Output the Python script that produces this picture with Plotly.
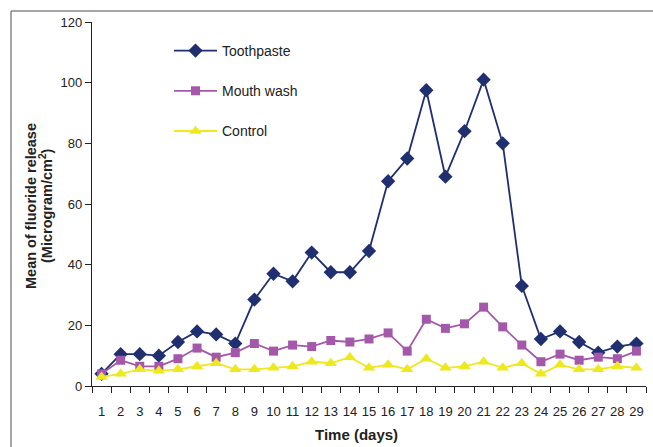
import plotly.graph_objects as go

days = [str(d) for d in range(1, 30)]
toothpaste = [4, 10.5, 10.5, 10, 14.5, 18, 17, 14, 28.5, 37, 34.5, 44, 37.5, 37.5, 44.5,
              67.5, 75, 97.5, 69, 84, 101, 80, 33, 15.5, 18, 14.5, 11, 13, 14]
mouth_wash = [4, 8.5, 6.5, 6.5, 9, 12.5, 9.5, 11, 14, 11.5, 13.5, 13, 15, 14.5, 15.5,
              17.5, 11.5, 22, 19, 20.5, 26, 19.5, 13.5, 8, 10.5, 8.5, 9.5, 9, 11.5]
control = [3, 4, 5.5, 5, 5.5, 6.5, 7.5, 5.5, 5.5, 6, 6.5, 8, 7.5, 9.5, 6,
           7, 5.5, 9, 6, 6.5, 8, 6, 7.5, 4, 7, 5.5, 5.5, 6.5, 6]
y_ticks = [0, 20, 40, 60, 80, 100, 120]

FONT = "Liberation Sans, Arial, sans-serif"

fig = go.Figure()
fig.add_trace(go.Scatter(x=days, y=toothpaste, name="Toothpaste", mode="lines+markers",
                         legendgroup="a",
                         line=dict(color="#1F2F70", width=1.8),
                         marker=dict(symbol="diamond", size=11, color="#1F2F70")))
fig.add_trace(go.Scatter(x=days, y=mouth_wash, name="Mouth wash", mode="lines+markers",
                         legendgroup="b",
                         line=dict(color="#A458AA", width=1.8),
                         marker=dict(symbol="square", size=9, color="#A458AA")))
fig.add_trace(go.Scatter(x=days, y=control, name="Control", mode="lines+markers",
                         legendgroup="c",
                         line=dict(color="#EEE81E", width=1.8),
                         marker=dict(symbol="triangle-up", size=11, color="#EEE81E")))

L, R, T, B = 92, 7, 22, 61
W, H = 653, 447
pw, ph = W - L - R, H - T - B

def px(xp):
    return (xp - L) / pw

def py(yp):
    return (H - B - yp) / ph

fig.update_layout(
    width=W, height=H,
    margin=dict(l=L, r=R, t=T, b=B, autoexpand=False),
    paper_bgcolor="white", plot_bgcolor="white",
    font=dict(family=FONT, size=13, color="#222222"),
    showlegend=True,
    legend=dict(x=px(169), y=py(35), xanchor="left", yanchor="top",
                bgcolor="rgba(0,0,0,0)", tracegroupgap=19, itemwidth=43,
                font=dict(size=14, color="#222222")),
    xaxis=dict(type="category", showgrid=False, zeroline=False, automargin=False,
               showline=True, linecolor="#222222", linewidth=1.2,
               ticks="outside", tickson="boundaries", ticklen=6,
               tickcolor="#222222", tickwidth=1.2, tickangle=0,
               tickfont=dict(size=13), ticklabelstandoff=13,
               range=[-0.5, 28.5]),
    yaxis=dict(range=[0, 120], tickvals=y_ticks, showgrid=False, zeroline=False,
               automargin=False,
               showline=True, linecolor="#222222", linewidth=1.2,
               ticks="outside", ticklen=6, tickcolor="#222222", tickwidth=1.2,
               tickfont=dict(size=13)),
    annotations=[
        dict(text="<b>Time (days)</b>", x=px(356), y=py(434), xref="paper", yref="paper",
             showarrow=False, xanchor="center", yanchor="middle",
             font=dict(size=15, color="#222222")),
        dict(text="<b>Mean of fluoride release</b>",
             x=px(31), y=py(206), xref="paper", yref="paper", textangle=-90,
             showarrow=False, xanchor="center", yanchor="middle",
             font=dict(size=14.5, color="#222222")),
        dict(text="<b>(Microgram/cm<sup>2</sup>)</b>",
             x=px(46), y=py(206), xref="paper", yref="paper", textangle=-90,
             showarrow=False, xanchor="center", yanchor="middle",
             font=dict(size=14.5, color="#222222")),
    ],
    shapes=[
        dict(type="line", xref="paper", yref="paper", x0=px(11), x1=px(660),
             y0=py(11), y1=py(11), line=dict(color="#888888", width=1.5)),
        dict(type="line", xref="paper", yref="paper", x0=px(11), x1=px(11),
             y0=py(11), y1=py(460), line=dict(color="#888888", width=1.5)),
    ],
)

fig.write_html("out.html", config={"displayModeBar": False},
               post_script="document.body.style.margin='0';document.body.style.padding='0';")
